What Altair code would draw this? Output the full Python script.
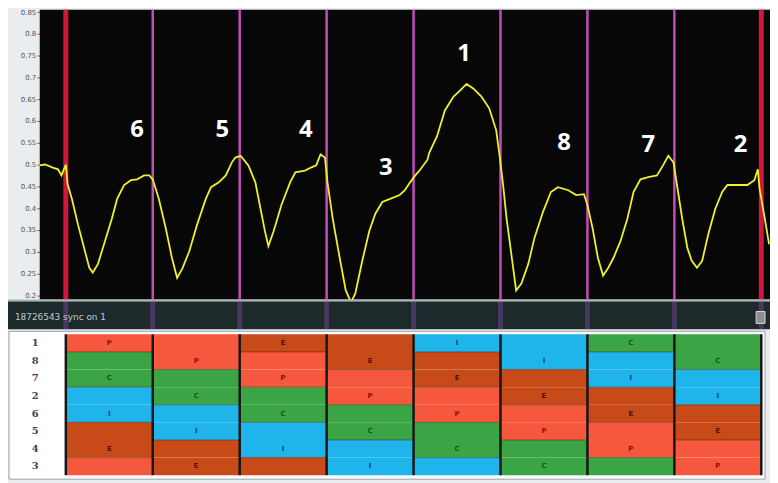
import altair as alt
import pandas as pd

# ---------------- data ----------------
trace_t = [-0.30, -0.24, -0.15, -0.09, -0.05, 0.00, 0.02, 0.07, 0.14, 0.22,
           0.27, 0.31, 0.37, 0.45, 0.53, 0.59, 0.67, 0.75, 0.82, 0.90,
           0.96, 1.00, 1.07, 1.15, 1.22, 1.28, 1.34, 1.42, 1.51, 1.61,
           1.67, 1.76, 1.84, 1.91, 1.95, 2.01, 2.10, 2.18, 2.24, 2.29,
           2.33, 2.39, 2.48, 2.58, 2.64, 2.75, 2.82, 2.88, 2.93, 2.98,
           3.01, 3.07, 3.15, 3.22, 3.28, 3.33, 3.41, 3.49, 3.56, 3.64,
           3.73, 3.84, 3.90, 3.96, 4.02, 4.08, 4.16, 4.18, 4.27, 4.36,
           4.46, 4.53, 4.61, 4.69, 4.78, 4.87, 4.95, 4.99, 5.03, 5.07,
           5.13, 5.18, 5.24, 5.32, 5.39, 5.49, 5.58, 5.66, 5.78, 5.87,
           5.96, 6.00, 6.06, 6.12, 6.18, 6.24, 6.30, 6.38, 6.46, 6.53,
           6.61, 6.70, 6.80, 6.87, 6.93, 6.99, 7.03, 7.09, 7.15, 7.20,
           7.26, 7.32, 7.39, 7.47, 7.55, 7.61, 7.73, 7.84, 7.92, 7.96,
           7.98, 8.04, 8.09]
trace_v = [0.498, 0.500, 0.493, 0.489, 0.475, 0.500, 0.455, 0.421, 0.362, 0.301,
           0.263, 0.252, 0.272, 0.324, 0.376, 0.421, 0.453, 0.464, 0.466, 0.475,
           0.475, 0.466, 0.421, 0.353, 0.286, 0.240, 0.261, 0.301, 0.362, 0.421,
           0.448, 0.459, 0.475, 0.505, 0.516, 0.520, 0.498, 0.459, 0.398, 0.347,
           0.313, 0.347, 0.407, 0.459, 0.482, 0.486, 0.493, 0.498, 0.523, 0.516,
           0.459, 0.376, 0.286, 0.211, 0.184, 0.204, 0.279, 0.347, 0.387, 0.414,
           0.421, 0.430, 0.441, 0.459, 0.475, 0.489, 0.511, 0.527, 0.565, 0.624,
           0.656, 0.669, 0.685, 0.674, 0.656, 0.629, 0.579, 0.520, 0.453, 0.376,
           0.286, 0.211, 0.227, 0.272, 0.331, 0.392, 0.437, 0.448, 0.441, 0.430,
           0.432, 0.407, 0.353, 0.286, 0.245, 0.263, 0.286, 0.324, 0.376, 0.437,
           0.466, 0.471, 0.475, 0.498, 0.520, 0.505, 0.453, 0.376, 0.308, 0.279,
           0.263, 0.279, 0.340, 0.398, 0.437, 0.453, 0.453, 0.453, 0.464, 0.489,
           0.444, 0.376, 0.317]

red_bounds = [0, 8]
pink_bounds = [1, 2, 3, 4, 5, 6, 7]
all_bounds = [0, 1, 2, 3, 4, 5, 6, 7, 8]

seg_numbers = ["6", "5", "4", "3", "1", "8", "7", "2"]
num_t = [0.82, 1.80, 2.76, 3.68, 4.58, 5.73, 6.70, 7.76]
num_v = [0.578, 0.578, 0.578, 0.493, 0.753, 0.550, 0.545, 0.545]

y_ticks = [0.2, 0.25, 0.3, 0.35, 0.4, 0.45, 0.5, 0.55, 0.6, 0.65, 0.7, 0.75, 0.8, 0.85]

row_labels = ["1", "8", "7", "2", "6", "5", "4", "3"]
column_blocks = ["PCCIIEEP", "PPCCIIEE", "EPPCCIIE", "EEPPCCII",
                 "IEEPPCCI", "IIEEPPCC", "CIIEEPPC", "CCIIEEPP"]
letters = ["P", "C", "I", "E"]
fill_colors = ["#f5583c", "#3ba545", "#1fb4ea", "#c84a18"]
text_colors = ["#8a1408", "#0f5a16", "#0d3c8c", "#4a1004"]

status_text = "18726543 sync on 1"

# ---------------- scales ----------------
xs = alt.Scale(domain=[-0.3, 8.1], nice=False, zero=False)
ys = alt.Scale(domain=[0.19, 0.855], range=[292, 0], nice=False, zero=False)
rs = alt.Scale(domain=row_labels, range=[327, 469], paddingInner=0, paddingOuter=0)

fill_of = dict(zip(letters, fill_colors))
tcol_of = dict(zip(letters, text_colors))

# ---------------- top plot ----------------
bg_df = pd.DataFrame({"x0": [-0.3], "x1": [8.1], "y0": [0.19], "y1": [0.855]})
bg = alt.Chart(bg_df).mark_rect(color="#070707").encode(
    x=alt.X("x0:Q", scale=xs, axis=None), x2="x1",
    y=alt.Y("y0:Q", scale=ys, axis=alt.Axis(
        orient="left", values=y_ticks, format=".2~f", labelFontSize=7,
        labelColor="#555", tickColor="#666", tickSize=3, domain=False,
        grid=False, title=None, labelPadding=1, labelFont="DejaVu Sans")),
    y2="y1")

red_rules = alt.Chart(pd.DataFrame({"t": red_bounds})).mark_rule(
    color="#d0183f", strokeWidth=5).encode(
    x=alt.X("t:Q", scale=xs, axis=None), y=alt.value(0), y2=alt.value(292))
pink_rules = alt.Chart(pd.DataFrame({"t": pink_bounds})).mark_rule(
    color="#c64cbc", strokeWidth=2.5).encode(
    x=alt.X("t:Q", scale=xs, axis=None), y=alt.value(0), y2=alt.value(292))

trace = alt.Chart(pd.DataFrame({"t": trace_t, "v": trace_v})).mark_line(
    color="#f0f02c", strokeWidth=1.8).encode(
    x=alt.X("t:Q", scale=xs, axis=None),
    y=alt.Y("v:Q", scale=ys, axis=None))

numbers = alt.Chart(pd.DataFrame({"t": num_t, "v": num_v, "n": seg_numbers})).mark_text(
    color="white", fontSize=24, fontWeight="bold", font="Open Sans",
    baseline="middle", align="center").encode(
    x=alt.X("t:Q", scale=xs, axis=None),
    y=alt.Y("v:Q", scale=ys, axis=None), text="n:N")

# ---------------- status bar ----------------
one = pd.DataFrame({"a": [0]})
sep = alt.Chart(one).mark_rect(color="#a9b2b6").encode(
    x=alt.value(-32), x2=alt.value(736), y=alt.value(292), y2=alt.value(294))
bar = alt.Chart(one).mark_rect(color="#1c2a2b").encode(
    x=alt.value(-32), x2=alt.value(736), y=alt.value(294), y2=alt.value(322))
bar_lines = alt.Chart(pd.DataFrame({"t": all_bounds})).mark_rule(
    color="#9a4fc0", strokeWidth=5, opacity=0.35).encode(
    x=alt.X("t:Q", scale=xs, axis=None), y=alt.value(294), y2=alt.value(322))
bar_text = alt.Chart(one).mark_text(
    align="left", baseline="middle", color="#c3cccc", fontSize=9,
    font="DejaVu Sans").encode(
    x=alt.value(-25), y=alt.value(310), text=alt.value(status_text))
bar_btn = alt.Chart(one).mark_rect(color="#8d8f92", stroke="#d6d6d6", strokeWidth=1).encode(
    x=alt.value(722), x2=alt.value(731), y=alt.value(304), y2=alt.value(316))

# ---------------- table ----------------
recs = []
for c, blocks in enumerate(column_blocks):
    for r, L in enumerate(blocks):
        prev = blocks[r - 1]
        recs.append(dict(c0=c, c1=c + 1, cx=c + 0.5, row=row_labels[r], letter=L,
                         fill=fill_of[L], tcol=tcol_of[L],
                         show=(L == prev), edge=(r > 0 and L != prev)))
cells_df = pd.DataFrame(recs)

frame = alt.Chart(one).mark_rect(color="white", stroke="#9aa0a4", strokeWidth=1).encode(
    x=alt.value(-31), x2=alt.value(731), y=alt.value(324), y2=alt.value(473))
cells = alt.Chart(cells_df).mark_rect().encode(
    x=alt.X("c0:Q", scale=xs, axis=None), x2="c1",
    y=alt.Y("row:N", scale=rs, sort=row_labels, axis=alt.Axis(
        orient="left", offset=-26, labelAlign="center", labelPadding=31,
        ticks=False, domain=False, grid=False, title=None, labelFontSize=10,
        labelFontWeight="bold", labelColor="#444", labelFont="DejaVu Serif")),
    color=alt.Color("fill:N", scale=None))
hlines = alt.Chart(cells_df[cells_df["edge"]]).mark_rule(
    color="#3a2010", opacity=0.45, strokeWidth=1).encode(
    x=alt.X("c0:Q", scale=xs, axis=None), x2="c1",
    y=alt.Y("row:N", scale=rs, sort=row_labels, axis=None, bandPosition=0))
vsep = alt.Chart(pd.DataFrame({"t": all_bounds})).mark_rule(
    color="#161616", strokeWidth=2.5).encode(
    x=alt.X("t:Q", scale=xs, axis=None), y=alt.value(327), y2=alt.value(469))
letter_txt = alt.Chart(cells_df[cells_df["show"]]).mark_text(
    fontSize=7, fontWeight="bold", font="DejaVu Sans", baseline="middle").encode(
    x=alt.X("cx:Q", scale=xs, axis=None),
    y=alt.Y("row:N", scale=rs, sort=row_labels, axis=None),
    text="letter:N", color=alt.Color("tcol:N", scale=None))

chart = alt.layer(
    bg, red_rules, pink_rules, trace, numbers,
    sep, bar, bar_lines, bar_text, bar_btn,
    frame, cells, hlines, vsep, letter_txt,
).resolve_scale(y="independent").resolve_axis(y="independent").properties(
    width=736, height=475,
    padding={"left": 32, "top": 0, "right": 0, "bottom": 0},
    autosize=alt.AutoSizeParams(type="none"),
    background="#e9edf0",
).configure_view(stroke=None)

chart.save("out.html", embed_options={"renderer": "svg", "actions": False})
